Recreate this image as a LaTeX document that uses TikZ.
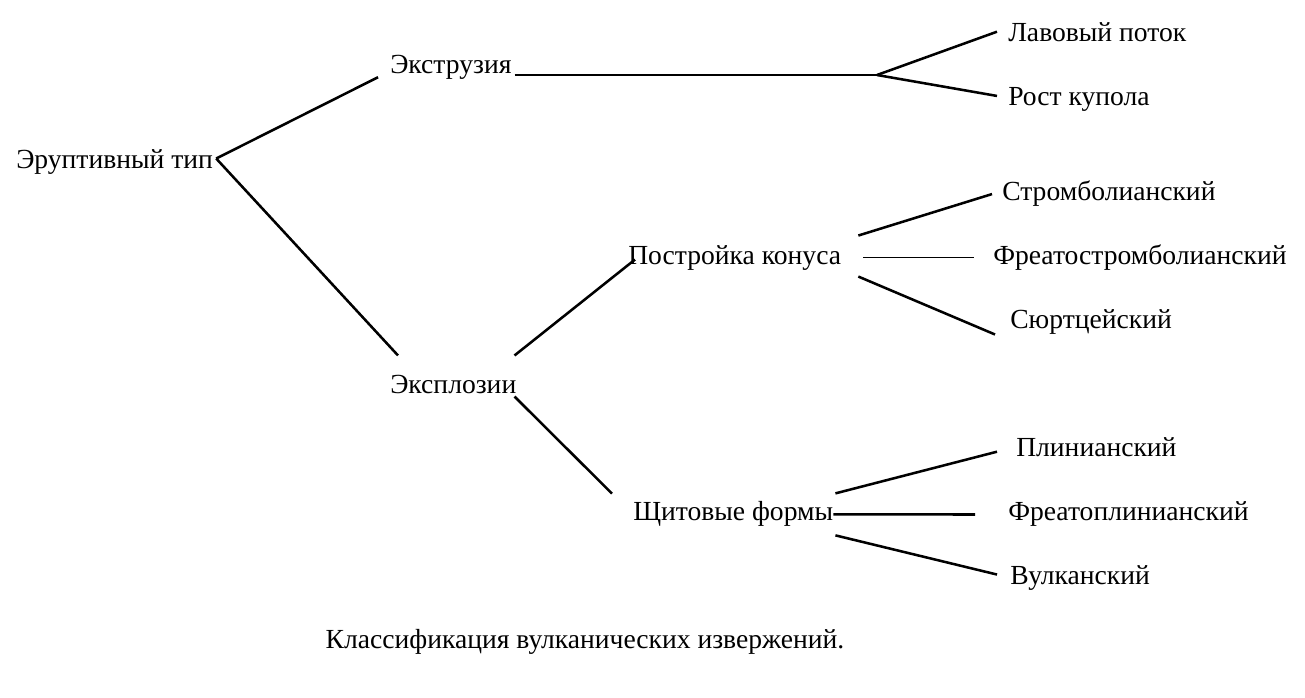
\documentclass[tikz,border=0pt]{standalone}
\usepackage{fontspec}
\setmainfont{Liberation Serif}
\usetikzlibrary{calc}

\tikzset{
  lbl/.style={anchor=base west, inner sep=0pt, font=\fontsize{20.7}{24}\selectfont},
  branch/.style={line width=1.9pt},
  thinbranch/.style={line width=0.8pt}
}

\begin{document}
\begin{tikzpicture}[x=0.75pt, y=-0.75pt]
        \useasboundingbox (0,0) rectangle (1305,697);

        % Root and the two main groups
        \node[lbl] (erupt) at (16,168) {Эруптивный тип};
        \node[lbl] (extr) at (390,73) {Экструзия};
        \node[lbl] (explo) at (390,393) {Эксплозии};

        % Extrusion leaves
        \coordinate (fork) at (877,75);
        \node[lbl] (lava) at (1008,41) {Лавовый поток};
        \node[lbl] (dome) at (1008,105) {Рост купола};

        % Explosion subgroups
        \node[lbl] (cone) at (628,264) {Постройка конуса};
        \node[lbl] (shield) at (633,520) {Щитовые формы};

        % Cone leaves
        \node[lbl] (strom) at (1002,200) {Стромболианский};
        \node[lbl] (phstrom) at (993,264) {Фреатостромболианский};
        \node[lbl] (surts) at (1010,328) {Сюртцейский};

        % Shield leaves
        \node[lbl] (plin) at (1016,456) {Плинианский};
        \node[lbl] (phplin) at (1008,520) {Фреатоплинианский};
        \node[lbl] (vulc) at (1010,584) {Вулканский};

        % Caption
        \node[lbl, anchor=base] (caption) at (585,648) {Классификация вулканических извержений.};

        % Connectors from the root
        \draw[branch] ([shift={(3,-3)}]erupt.east) -- ([shift={(-12,-2)}]extr.south west);
        \draw[branch] ([shift={(3,-3)}]erupt.east) -- ([shift={(8,-19)}]explo.north west);

        % Extrusion branch
        \draw[branch] ([shift={(3,2)}]extr.base east) -- (fork);
        \draw[branch] (fork) -- ([shift={(-11,0)}]lava.west);
        \draw[branch] (fork) -- ([shift={(-11,-3)}]dome.west);

        % Explosion branch
        \draw[branch] ([shift={(-2,-19)}]explo.north east) -- ([shift={(7,2)}]cone.west);
        \draw[branch] ([shift={(-2,3)}]explo.south east) -- ([shift={(-21,-7)}]shield.north west);

        % Cone leaves
        \draw[branch] ([shift={(17,-22)}]cone.east) -- ([shift={(-10,1)}]strom.west);
        \draw[thinbranch] ([shift={(22,0)}]cone.east) -- ([xshift=-14]cone.east -| phstrom.west);
        \draw[branch] ([shift={(17,19)}]cone.east) -- ([shift={(-15,13)}]surts.west);

        % Shield leaves
        \draw[branch] ([shift={(2,-20)}]shield.east) -- ([shift={(-19,5)}]plin.west);
        \draw[branch] ([shift={(0,1)}]shield.east) -- ([shift={(-33,1)}]phplin.west);
        \draw[branch] ([shift={(2,22)}]shield.east) -- ([shift={(-13,-3)}]vulc.west);

\end{tikzpicture}
\end{document}
